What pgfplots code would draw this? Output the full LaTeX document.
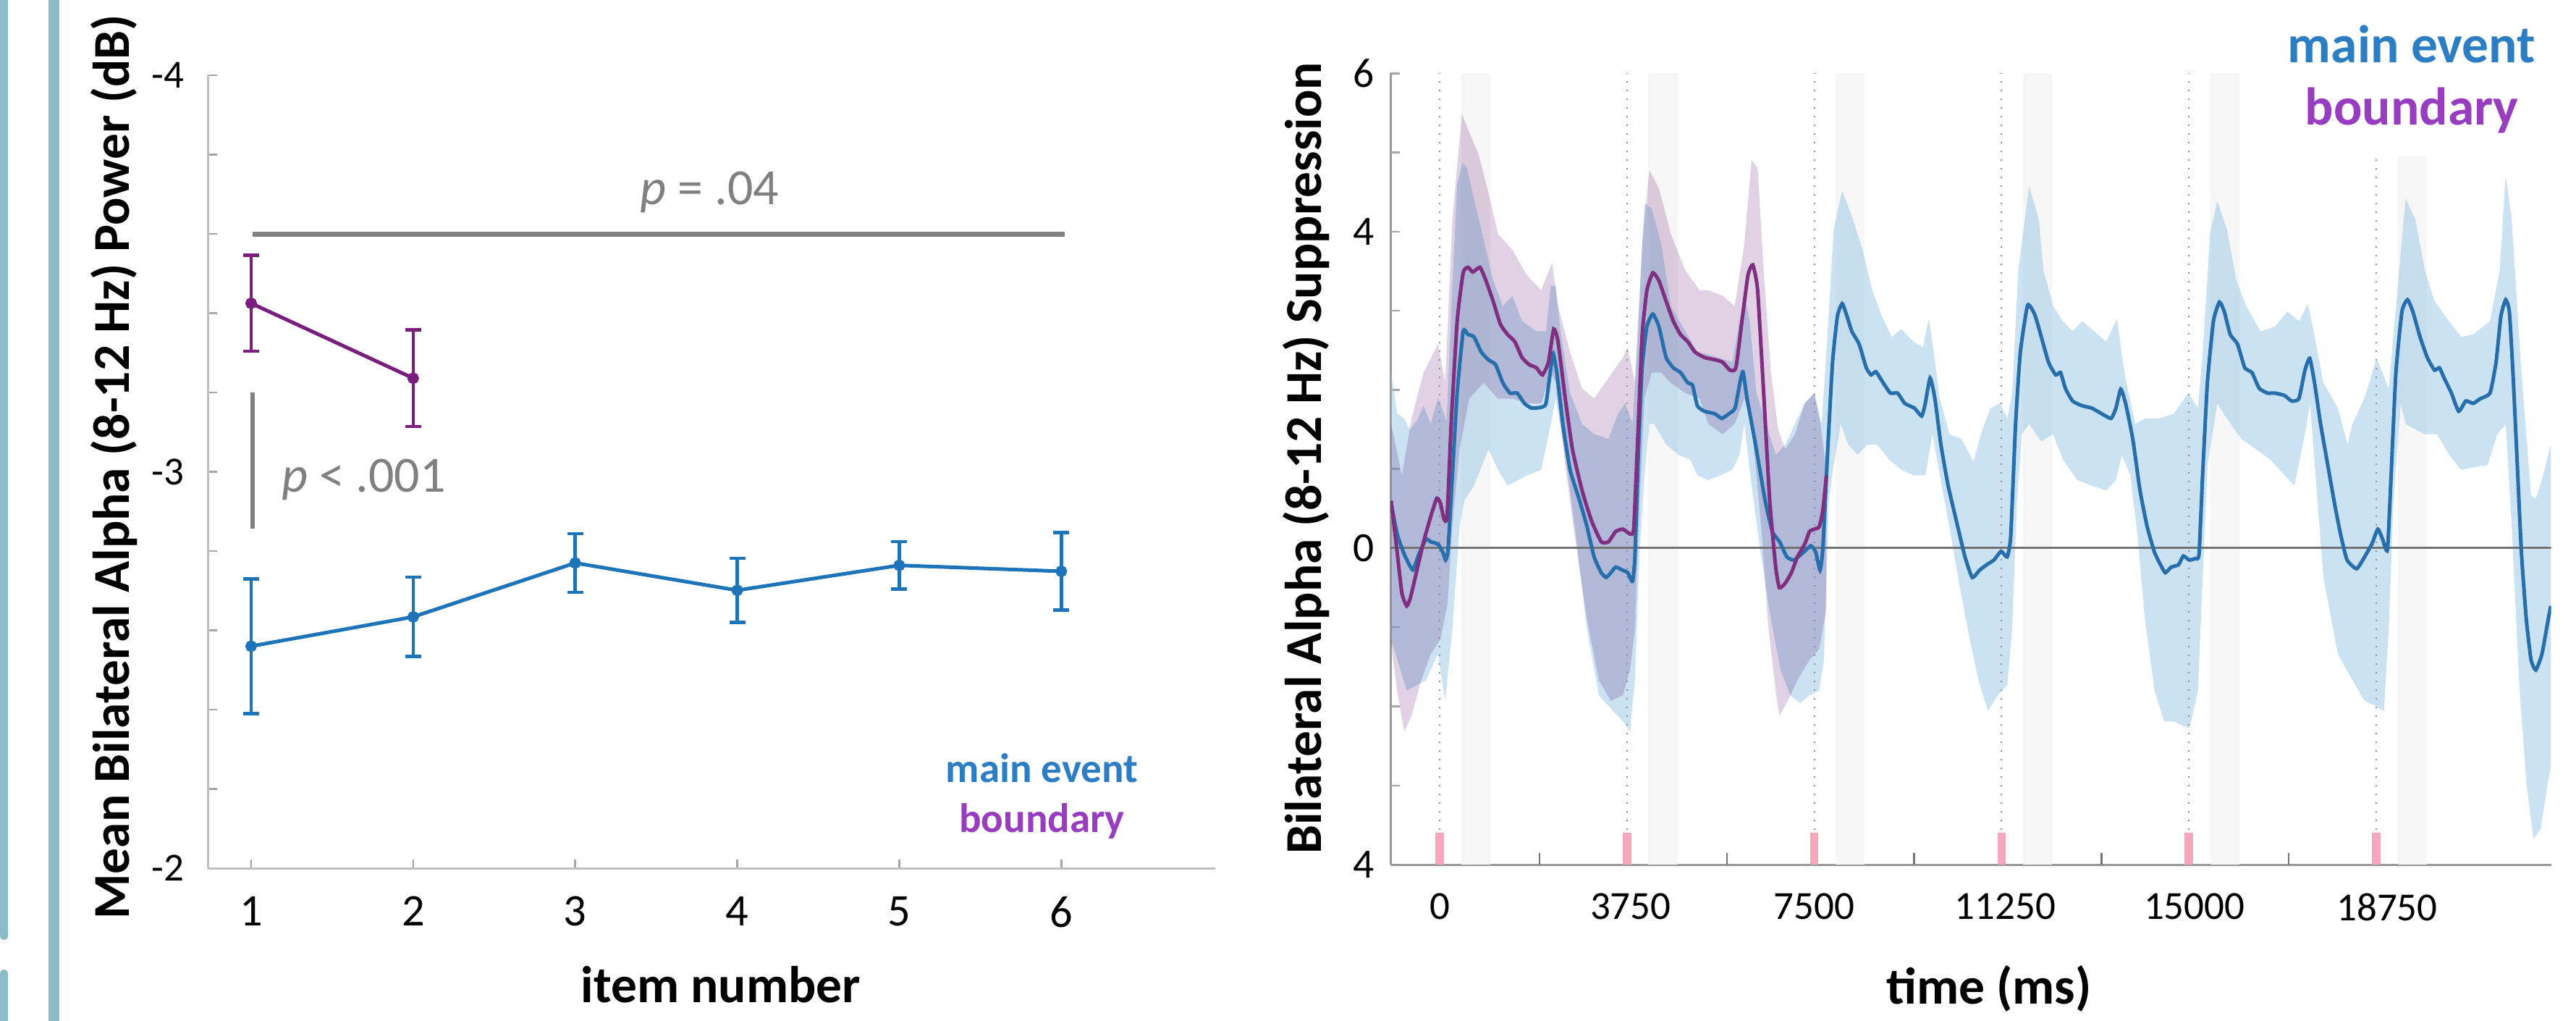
\documentclass[border=0pt]{standalone}
\usepackage{pgfplots}
\usepackage{pgfplotstable}
\pgfplotsset{compat=1.18}
\usepackage{fontspec}
\setmainfont{Carlito}

\definecolor{tealbar}{RGB}{138,189,199}
\definecolor{lblue}{RGB}{30,116,184}
\definecolor{lpurple}{RGB}{122,30,125}
\definecolor{legblue}{RGB}{43,125,196}
\definecolor{legpurple}{RGB}{152,60,192}
\definecolor{pgray}{RGB}{128,128,128}
\definecolor{rblue}{RGB}{38,110,172}
\definecolor{rpurple}{RGB}{128,46,128}
\definecolor{cib}{RGB}{150,198,230}
\definecolor{cip}{RGB}{225,209,228}
\definecolor{bandgray}{RGB}{246,246,246}
\definecolor{pinkmark}{RGB}{244,166,186}

% ---------- main event: mean ----------
\pgfplotstableread{
t v
-971 0.566
-851 0.18
-707 -0.08
-538 -0.276
-418 -0.08
-274 0.113
-178 0.08
-33 0.05
63 -0.05
120 -0.15
168 -0.02
255 0.92
351 1.96
471 2.74
567 2.70
688 2.67
832 2.48
976 2.38
1120 2.32
1265 2.09
1409 1.96
1553 1.96
1697 1.83
1841 1.77
2034 1.78
2130 1.83
2226 2.28
2274 2.46
2346 2.22
2467 1.57
2611 0.99
2803 0.60
2947 0.28
3092 -0.11
3236 -0.31
3332 -0.37
3428 -0.31
3524 -0.24
3669 -0.28
3765 -0.31
3861 -0.42
3909 -0.11
3981 1.25
4053 2.28
4149 2.80
4269 2.96
4390 2.80
4534 2.41
4678 2.28
4822 2.22
4967 2.09
5063 2.06
5159 1.80
5303 1.73
5505 1.70
5649 1.64
5794 1.70
5914 1.77
6011 2.09
6073 2.23
6155 1.89
6324 1.31
6517 0.60
6661 0.21
6806 0.08
6951 -0.11
7095 -0.15
7288 -0.05
7433 0.03
7529 -0.05
7616 -0.28
7674 0.02
7770 1.25
7866 2.35
7963 2.93
8059 3.09
8156 2.93
8252 2.74
8397 2.58
8541 2.28
8638 2.19
8734 2.23
8879 2.09
9023 1.96
9168 1.96
9312 1.83
9505 1.77
9650 1.67
9722 1.83
9819 2.15
9915 1.89
10035 1.31
10180 0.79
10373 0.27
10517 -0.11
10662 -0.37
10807 -0.28
10951 -0.21
11096 -0.15
11240 -0.04
11361 -0.11
11433 0.15
11530 1.57
11626 2.48
11771 3.07
11915 2.95
12045 2.67
12189 2.35
12334 2.19
12430 2.22
12527 2.02
12671 1.86
12864 1.80
13057 1.77
13250 1.70
13442 1.64
13539 1.77
13635 2.01
13732 1.83
13876 1.38
14021 0.73
14165 0.27
14310 -0.05
14431 -0.21
14527 -0.31
14647 -0.24
14792 -0.21
14888 -0.10
15009 -0.15
15129 -0.13
15202 -0.08
15274 0.92
15370 2.09
15491 2.87
15611 3.11
15708 2.99
15828 2.70
15973 2.58
16118 2.28
16262 2.22
16407 2.02
16575 1.96
16720 1.96
16913 1.93
17057 1.86
17202 1.89
17323 2.25
17419 2.40
17515 2.09
17636 1.57
17780 1.05
17925 0.53
18045 0.15
18166 -0.15
18359 -0.26
18517 -0.11
18661 0.05
18782 0.24
18879 0.11
18975 -0.02
19048 0.92
19144 2.22
19265 2.99
19376 3.14
19483 2.99
19627 2.67
19772 2.41
19917 2.25
20014 2.28
20110 2.15
20255 1.96
20400 1.73
20545 1.86
20690 1.83
20835 1.89
21028 1.96
21149 2.35
21245 2.93
21342 3.14
21415 2.99
21487 2.22
21584 0.92
21656 -0.05
21753 -0.89
21849 -1.41
21946 -1.54
22067 -1.34
22187 -0.92
22245 -0.73
}\mainmean

% main event band: upper edge forward, then lower edge backward
\pgfplotstableread{
t v
-971 2.22
-851 1.70
-707 1.64
-600 1.50
-466 1.60
-322 1.80
-178 1.57
-33 1.90
87 1.70
140 1.60
231 3.00
351 4.60
455 4.87
543 4.81
688 4.42
880 3.90
1072 3.38
1265 3.06
1457 3.19
1649 2.87
1938 2.74
2130 2.74
2226 3.32
2322 3.32
2419 2.74
2611 1.96
2851 1.57
3092 1.44
3380 1.38
3572 1.70
3717 1.83
3861 1.57
3957 2.54
4101 4.36
4245 4.29
4438 3.84
4630 3.06
4919 2.74
5159 2.48
5376 2.45
5621 2.40
5859 2.35
6011 2.90
6102 3.20
6200 2.90
6342 1.96
6535 1.57
6728 1.18
6922 1.31
7115 1.57
7308 1.83
7501 1.96
7646 1.57
7743 2.48
7888 4.03
8057 4.52
8274 4.16
8467 3.77
8660 3.26
8854 2.93
9047 2.67
9240 2.77
9482 2.61
9675 2.54
9795 2.90
9892 2.48
10013 1.89
10206 1.44
10448 1.38
10689 1.09
10834 1.44
11027 1.77
11220 1.83
11365 1.64
11462 1.96
11583 3.51
11800 4.58
11993 4.16
12089 3.51
12282 3.06
12476 2.87
12669 2.74
12862 2.87
13104 2.74
13345 2.61
13562 2.90
13707 2.22
13925 1.57
14118 1.64
14408 1.64
14697 1.70
14987 1.96
15180 1.77
15277 2.48
15422 3.97
15567 4.39
15760 4.03
15953 3.38
16146 3.06
16436 2.74
16726 2.80
16967 2.99
17209 2.87
17378 3.09
17499 2.74
17692 2.09
17982 1.77
18175 1.31
18275 1.57
18516 1.90
18758 2.40
19000 2.02
19337 4.42
19531 4.16
19724 3.51
19917 3.12
20207 2.87
20449 2.67
20690 2.70
21028 2.87
21221 3.51
21342 4.71
21463 4.16
21656 2.22
21849 0.66
21946 0.63
22091 0.92
22245 1.31
22245 -2.77
22187 -2.96
22042 -3.55
21898 -3.68
21753 -2.96
21608 -1.67
21463 0.27
21342 1.57
21173 1.44
20980 1.05
20690 1.02
20449 0.99
20207 1.18
19966 1.44
19724 1.44
19531 1.50
19337 1.57
19241 1.83
19096 0.60
19000 -1.02
18903 -2.06
18758 -2.00
18516 -1.93
18275 -1.67
17982 -1.34
17692 -0.37
17426 1.83
17320 1.44
17112 0.79
16919 0.92
16629 1.12
16340 1.25
16050 1.38
15760 1.64
15567 1.83
15374 1.05
15277 -0.37
15180 -1.80
15011 -2.28
14890 -2.25
14697 -2.19
14504 -2.19
14311 -1.80
14118 -0.89
13973 0.15
13828 0.92
13659 1.18
13538 0.86
13345 0.73
13055 0.79
12765 0.86
12476 1.12
12282 1.44
12041 1.35
11800 1.57
11655 1.44
11559 0.60
11462 -1.02
11365 -1.73
11172 -1.86
10979 -2.06
10786 -1.67
10593 -1.09
10399 -0.44
10206 0.27
10013 0.92
9868 1.44
9723 0.92
9482 0.92
9240 0.99
8999 1.12
8757 1.31
8564 1.31
8370 1.18
8177 1.31
8033 1.57
7888 1.05
7791 0.60
7694 -1.41
7598 -1.80
7405 -1.86
7211 -1.96
7018 -1.86
6825 -1.54
6632 -0.89
6438 -0.11
6245 0.79
6100 1.57
6004 1.18
5859 0.99
5617 0.92
5376 0.86
5159 0.92
5015 1.12
4775 1.18
4534 1.31
4294 1.57
4198 1.57
4101 0.92
4005 -0.05
3909 -1.67
3813 -2.32
3669 -2.19
3476 -2.06
3188 -1.86
2947 -1.02
2707 0.27
2515 1.18
2322 1.89
2226 1.57
2034 0.99
1746 0.92
1361 0.79
1169 0.99
976 1.25
688 0.79
495 0.60
399 0.27
255 -1.02
111 -1.93
-33 -1.34
-274 -1.67
-659 -1.80
-971 -1.15
}\mainband

% ---------- boundary ----------
\pgfplotstableread{
t v
-971 0.60
-851 -0.05
-755 -0.57
-658 -0.73
-586 -0.63
-466 -0.31
-322 0.08
-178 0.40
-58 0.63
15 0.57
87 0.37
149 0.40
231 1.57
351 2.87
471 3.48
567 3.55
664 3.49
808 3.55
928 3.38
1072 3.12
1217 2.83
1361 2.70
1505 2.61
1649 2.41
1793 2.32
1938 2.28
2058 2.19
2178 2.35
2284 2.77
2370 2.61
2515 1.89
2659 1.25
2851 0.73
3044 0.34
3236 0.08
3380 0.08
3524 0.21
3669 0.24
3813 0.18
3885 0.24
3957 1.25
4053 2.67
4149 3.26
4269 3.48
4390 3.38
4534 3.12
4678 2.87
4822 2.70
4967 2.61
5111 2.48
5303 2.41
5521 2.38
5666 2.35
5811 2.25
5931 2.28
6052 2.87
6173 3.45
6270 3.58
6366 3.26
6487 1.96
6608 0.60
6728 -0.24
6801 -0.50
6922 -0.44
7042 -0.31
7163 -0.11
7308 0.05
7405 0.21
7501 0.24
7598 0.27
7670 0.47
7743 0.92
}\bndmean

\pgfplotstableread{
t v
-971 1.57
-755 0.92
-562 1.64
-322 2.22
-33 2.58
111 2.09
255 4.16
447 5.49
591 5.26
784 4.97
976 4.49
1169 3.97
1457 3.77
1746 3.45
2034 3.26
2250 3.61
2370 3.06
2611 2.48
2851 2.02
3092 1.89
3380 2.15
3669 2.41
3765 2.54
3909 2.09
4053 3.84
4198 4.78
4390 4.55
4630 3.97
4919 3.51
5207 3.26
5376 3.26
5666 3.19
5907 3.06
6100 3.84
6245 4.91
6366 4.81
6487 3.51
6632 2.22
6777 1.50
6922 1.25
7115 1.44
7308 1.83
7501 1.96
7622 1.57
7743 0.99
7743 -0.76
7598 -1.28
7405 -1.41
7163 -1.67
6970 -1.93
6801 -2.12
6728 -1.80
6583 -1.02
6438 0.27
6245 1.57
6100 1.89
5907 1.57
5666 1.44
5376 1.57
5207 1.89
4919 1.96
4630 2.09
4438 2.22
4245 2.22
4101 1.89
4005 0.60
3909 -1.02
3813 -1.54
3669 -1.86
3428 -1.93
3188 -1.67
2947 -0.89
2707 0.15
2515 1.05
2322 2.09
2226 2.22
2034 1.83
1746 1.83
1457 1.89
1169 1.89
880 2.09
591 1.89
399 1.25
255 0.27
159 -0.70
15 -1.15
-178 -1.34
-370 -1.67
-562 -2.12
-707 -2.32
-851 -1.80
-971 -1.21
}\bndband

\begin{document}
\begin{tikzpicture}
% slide decoration
\fill[tealbar, rounded corners=1pt] (0,22.2pt) rectangle (2.2pt,286pt);
\fill[tealbar, rounded corners=1pt] (0,-4pt) rectangle (2.2pt,14pt);
\fill[tealbar] (13.4pt,-1pt) rectangle (16.4pt,283pt);

% ================= LEFT PANEL =================
\begin{axis}[
  at={(57.4pt,42pt)}, anchor=south west, scale only axis,
  width=278.4pt, height=219pt,
  xmin=0.732, xmax=6.95, ymin=-4, ymax=-2, y dir=reverse,
  axis x line*=bottom, axis y line*=left,
  axis line style={draw=black!25, line width=0.6pt, -},
  xtick={1,2,3,4,5,6}, xticklabels={1,2,3,4,5,6},
  ytick={-4,-3,-2}, yticklabels={-4,-3,-2},
  minor ytick={-3.8,-3.6,-3.4,-3.2,-2.8,-2.6,-2.4,-2.2},
  tick align=inside, major tick length=2.5pt, minor tick length=2.5pt,
  every tick/.style={draw=black!35, line width=0.5pt},
  x tick label style={font=\fontsize{12.5}{14}\selectfont, yshift=-4.3pt},
  y tick label style={font=\fontsize{11}{13}\selectfont, xshift=-3pt},
  clip=false,
]
\addplot[pgray, line width=1.4pt] coordinates {(1.01,-3.6) (6.02,-3.6)};
\addplot[pgray, line width=1.3pt] coordinates {(1.01,-3.2) (1.01,-2.857)};
\node[pgray, font=\fontsize{14}{16}\selectfont] at (axis cs:3.83,-3.705) {\textit{p} = .04};
\node[pgray, font=\fontsize{14}{16}\selectfont, anchor=west] at (axis cs:1.11,-2.98) {\textit{p} < .001};

\addplot[lpurple, line width=1pt, mark=*, mark size=1.1pt,
  error bars/.cd, y dir=both, y explicit,
  error bar style={line width=0.9pt},
  error mark options={rotate=90, mark size=2.2pt, line width=0.9pt}]
  coordinates {(1,-3.425) +- (0,0.121) (2,-3.236) +- (0,0.122)};
\addplot[lblue, line width=1pt, mark=*, mark size=1.1pt,
  error bars/.cd, y dir=both, y explicit,
  error bar style={line width=0.9pt},
  error mark options={rotate=90, mark size=2.2pt, line width=0.9pt}]
  coordinates {(1,-2.56) +- (0,0.17) (2,-2.634) +- (0,0.10) (3,-2.77) +- (0,0.074)
               (4,-2.701) +- (0,0.081) (5,-2.764) +- (0,0.06) (6,-2.749) +- (0,0.098)};

\node[legblue, font=\fontsize{11.4}{13}\selectfont\bfseries, anchor=base] at (axis cs:5.88,-2.216) {main event};
\node[legpurple, font=\fontsize{11.4}{13}\selectfont\bfseries, anchor=base] at (axis cs:5.88,-2.09) {boundary};
\end{axis}

% ================= RIGHT PANEL =================
\begin{axis}[
  at={(384.2pt,43pt)}, anchor=south west, scale only axis,
  width=320.7pt, height=218.5pt,
  xmin=-985, xmax=22250, ymin=-4, ymax=6,
  axis x line*=bottom, axis y line*=left,
  axis line style={draw=black!40, line width=0.6pt, -},
  scaled x ticks=false,
  xtick={0,3750,7500,11250,15000,18750},
  xticklabels={0,\hspace{2pt}3750,7500,\hspace{2pt}11250,\hspace{3pt}15000,\hspace{6pt}\raisebox{-1.3pt}{18750}},
  major x tick style={draw=none},
  extra x ticks={2000,5750,9500,13250,17000},
  extra x tick labels={},
  extra x tick style={tick align=inside, major tick length=3.3pt, major x tick style={draw=black!55, line width=0.5pt}},
  ytick={-4,-3,-2,-1,0,1,2,3,4,5,6},
  yticklabels={4,,,,0,,,,4,,6},
  tick align=inside, major tick length=2.5pt,
  major y tick style={draw=black!35, line width=0.5pt},
  x tick label style={font=\fontsize{11}{13}\selectfont, yshift=-4.5pt},
  y tick label style={font=\fontsize{11.5}{13}\selectfont, xshift=-1pt},
]
% grey bands
\addplot[fill=bandgray, draw=none] coordinates {(430,-4) (430,6) (1010,6) (1010,-4)};
\addplot[fill=bandgray, draw=none] coordinates {(4180,-4) (4180,6) (4760,6) (4760,-4)};
\addplot[fill=bandgray, draw=none] coordinates {(7930,-4) (7930,6) (8510,6) (8510,-4)};
\addplot[fill=bandgray, draw=none] coordinates {(11680,-4) (11680,6) (12260,6) (12260,-4)};
\addplot[fill=bandgray, draw=none] coordinates {(15430,-4) (15430,6) (16010,6) (16010,-4)};
\addplot[fill=bandgray, draw=none] coordinates {(19180,-4) (19180,4.95) (19760,4.95) (19760,-4)};

% confidence bands
\addplot[fill=cib, fill opacity=0.5, draw=none] table[x=t,y=v] {\mainband};
\addplot[fill=cip, draw=none, blend mode=multiply] table[x=t,y=v] {\bndband};

% event lines
\addplot[black!45, dotted, line width=0.4pt] coordinates {(0,-4) (0,6)};
\addplot[black!45, dotted, line width=0.4pt] coordinates {(3750,-4) (3750,6)};
\addplot[black!45, dotted, line width=0.4pt] coordinates {(7500,-4) (7500,6)};
\addplot[black!45, dotted, line width=0.4pt] coordinates {(11250,-4) (11250,6)};
\addplot[black!45, dotted, line width=0.4pt] coordinates {(15000,-4) (15000,6)};
\addplot[black!45, dotted, line width=0.4pt] coordinates {(18750,-4) (18750,4.95)};
\addplot[pinkmark, line width=2.3pt] coordinates {(0,-4) (0,-3.6)};
\addplot[pinkmark, line width=2.3pt] coordinates {(3750,-4) (3750,-3.6)};
\addplot[pinkmark, line width=2.3pt] coordinates {(7500,-4) (7500,-3.6)};
\addplot[pinkmark, line width=2.3pt] coordinates {(11250,-4) (11250,-3.6)};
\addplot[pinkmark, line width=2.3pt] coordinates {(15000,-4) (15000,-3.6)};
\addplot[pinkmark, line width=2.3pt] coordinates {(18750,-4) (18750,-3.6)};

% zero line
\addplot[black!55, line width=0.6pt] coordinates {(-985,0) (22250,0)};

% means
\addplot[rblue, line width=1pt, smooth, tension=0.3] table[x=t,y=v] {\mainmean};
\addplot[rpurple, line width=1pt, smooth, tension=0.3] table[x=t,y=v] {\bndmean};
\end{axis}

% ================= LABELS =================
\node[rotate=90, anchor=base, font=\fontsize{14.3}{17}\selectfont\bfseries] at (35.8pt,152.8pt) {Mean Bilateral Alpha (8-12 Hz) Power (dB)};
\node[rotate=90, anchor=base, font=\fontsize{14.3}{17}\selectfont\bfseries] at (365pt,155.2pt) {Bilateral Alpha (8-12 Hz) Suppression};
\node[anchor=base, font=\fontsize{14.3}{17}\selectfont\bfseries] at (199.2pt,5pt) {item number};
\node[anchor=base, font=\fontsize{14.3}{17}\selectfont\bfseries] at (549.6pt,4.6pt) {time (ms)};
\node[legblue, anchor=base, font=\fontsize{14.7}{17}\selectfont\bfseries] at (666.4pt,264.4pt) {main event};
\node[legpurple, anchor=base, font=\fontsize{14.7}{17}\selectfont\bfseries] at (666.4pt,247.3pt) {boundary};

\pgfresetboundingbox
\useasboundingbox (0,0) rectangle (711.8pt,281.8pt);
\end{tikzpicture}
\end{document}
